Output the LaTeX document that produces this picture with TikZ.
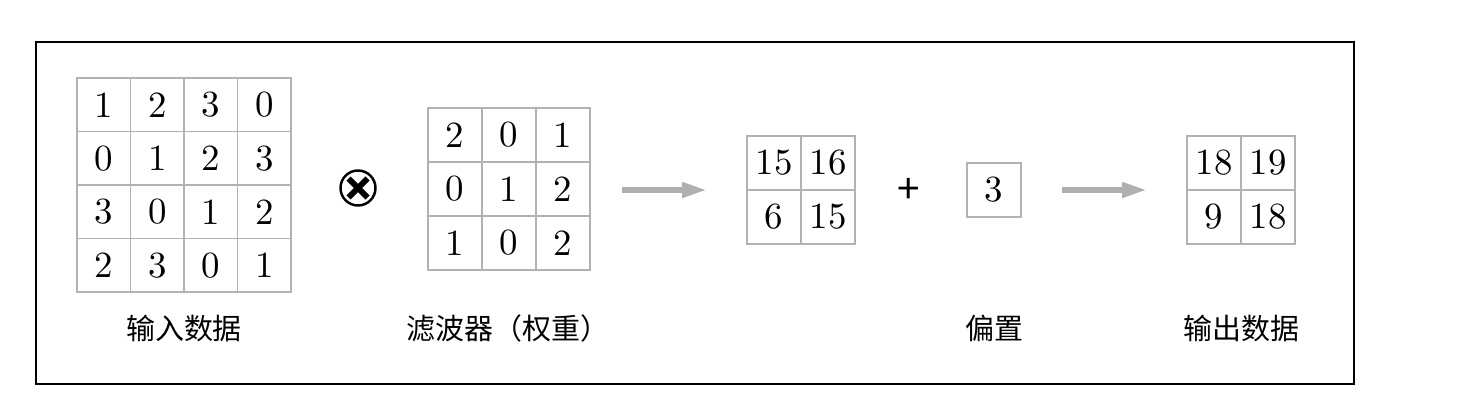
\documentclass[tikz,border=0pt]{standalone}
\usepackage{fontspec}
\newfontfamily\cjk{Noto Sans CJK SC}
\newfontfamily\digitfont[Extension=.otf]{lmroman10-regular}
\usetikzlibrary{positioning,arrows.meta}
\definecolor{gridgray}{RGB}{178,178,178}
\definecolor{arrowgray}{RGB}{176,176,176}

\begin{document}
\begin{tikzpicture}[x=0.02cm, y=-0.02cm,
    cell/.style={draw=gridgray, line width=1.1pt, minimum size=1.08cm, inner sep=0pt, font=\digitfont\fontsize{21}{21}\selectfont},
    caption/.style={font=\cjk\fontsize{16.5}{18}\selectfont},
    flow/.style={draw=arrowgray, line width=3.3pt, -{Triangle[length=0.5cm, width=0.29cm]}}]
    \useasboundingbox (0,0) rectangle (1470,401);
    \draw[line width=0.85pt] (36,42) rectangle (1354,384);

    % input data
    \foreach \row [count=\i from 0] in {{1,2,3,0},{0,1,2,3},{3,0,1,2},{2,3,0,1}}
        \foreach \v [count=\j from 0] in \row
            \node (in-\i-\j) [cell, minimum size=1.07cm] at (103.75+53.5*\j, 104.75+53.5*\i) {\v};
    \node (inlabel) [caption] at (184,328) {输入数据};

    % convolution sign
    \node (conv) [circle, draw, line width=1.4pt, minimum size=0.7cm] at (358,188) {};
    \draw[line width=3.4pt] (conv.center) +(-9.5,-9.5) -- +(9.5,9.5);
    \draw[line width=3.4pt] (conv.center) +(-9.5,9.5) -- +(9.5,-9.5);

    % filter
    \foreach \row [count=\i from 0] in {{2,0,1},{0,1,2},{1,0,2}}
        \foreach \v [count=\j from 0] in \row
            \node (flt-\i-\j) [cell] at (455+54*\j, 135+54*\i) {\v};
    \node (fltlabel) [caption] at (508,328) {滤波器（权重）};

    \coordinate (a1s) at (622,190);
    \coordinate (a1e) at (707,190);
    \draw[flow] (a1s) -- (a1e);

    % result
    \foreach \row [count=\i from 0] in {{15,16},{6,15}}
        \foreach \v [count=\j from 0] in \row
            \node (res-\i-\j) [cell] at (774+54*\j, 163+54*\i) {\v};

    \node (plus) [font=\cjk\fontsize{23}{23}\selectfont] at (909,191) {+};

    % bias
    \node (bias) [cell] at (994,190) {3};
    \node (biaslabel) [caption] at (994,328) {偏置};

    \coordinate (a2s) at (1062,190);
    \coordinate (a2e) at (1147,190);
    \draw[flow] (a2s) -- (a2e);

    % output data
    \foreach \row [count=\i from 0] in {{18,19},{9,18}}
        \foreach \v [count=\j from 0] in \row
            \node (out-\i-\j) [cell] at (1214+54*\j, 163+54*\i) {\v};
    \node (outlabel) [caption] at (1241,328) {输出数据};
\end{tikzpicture}
\end{document}
